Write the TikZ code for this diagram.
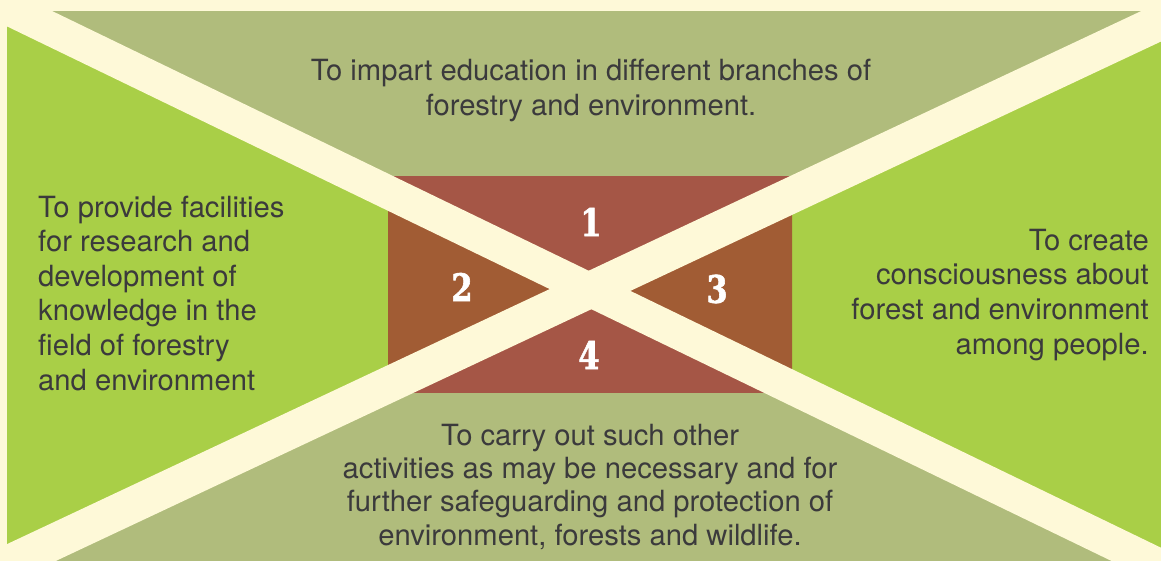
\documentclass[tikz,border=0pt]{standalone}
\usepackage{fontspec}
\setmainfont{TeX Gyre Heros}
\newfontfamily\numfont[FakeStretch=0.8,FakeBold=1.5]{DejaVu Serif}
\definecolor{cream}{HTML}{FEF9D8}
\definecolor{olive}{HTML}{B0BC7C}
\definecolor{lgreen}{HTML}{A9CF47}
\definecolor{redbrown}{HTML}{A55646}
\definecolor{orbrown}{HTML}{A15C34}
\definecolor{txt}{HTML}{3B3A3C}
\tikzset{
  desc/.style={text=txt, inner sep=0pt, font=\fontsize{29.2}{34.6}\selectfont},
  num/.style={text=white, inner sep=0pt, font=\numfont\bfseries\fontsize{38}{38}\selectfont},
}
\begin{document}
\begin{tikzpicture}[x=1pt,y=-1pt]
\useasboundingbox (0,0) rectangle (1161,561);
\fill[cream] (0,0) rectangle (1161,561);
\coordinate (C) at (590,290);
\coordinate (L1a) at (-200,-92.4);
\coordinate (L1b) at (1400,682);
\coordinate (L2a) at (-200,661.3);
\coordinate (L2b) at (1400,-90.7);
\begin{scope}
  \clip (7,12) rectangle (1161,561);
  \fill[olive] (C) -- (L1a) -- (L2b) -- cycle;
  \fill[lgreen] (C) -- (L1a) -- (L2a) -- cycle;
  \fill[olive] (C) -- (L2a) -- (L1b) -- cycle;
  \fill[lgreen] (C) -- (L2b) -- (L1b) -- cycle;
\end{scope}
\begin{scope}
  \clip (388,177) rectangle (792,392);
  \fill[redbrown] (C) -- (L1a) -- (L2b) -- cycle;
  \fill[orbrown] (C) -- (L1a) -- (L2a) -- cycle;
  \fill[redbrown] (C) -- (L2a) -- (L1b) -- cycle;
  \fill[orbrown] (C) -- (L2b) -- (L1b) -- cycle;
\end{scope}
\draw[cream, line width=33.5pt] (L1a) -- (L1b);
\draw[cream, line width=36pt] (L2a) -- (L2b);
% numbers
\node[num] (n1) at (591,222) {1};
\node[num] (n2) at (462,287) {2};
\node[num] (n3) at (717,289) {3};
\node[num] (n4) at (589,355) {4};
% texts (base anchor = baseline of last line)
\node[desc, align=center, anchor=base] (t1) at (591,115.6)
  {To impart education in different branches of\\forestry and environment.};
\node[desc, align=left, anchor=base west] (t2) at (38,390)
  {To provide facilities\\for research and\\development of\\knowledge in the\\field of forestry\\and environment};
\node[desc, align=right, anchor=base east] (t3) at (1149,354)
  {To create\\consciousness about\\forest and environment\\among people.};
\node[desc, align=center, anchor=base, font=\fontsize{29.2}{33.2}\selectfont] (t4) at (590,545)
  {To carry out such other\\activities as may be necessary and for\\further safeguarding and protection of\\environment, forests and wildlife.};
\end{tikzpicture}
\end{document}
